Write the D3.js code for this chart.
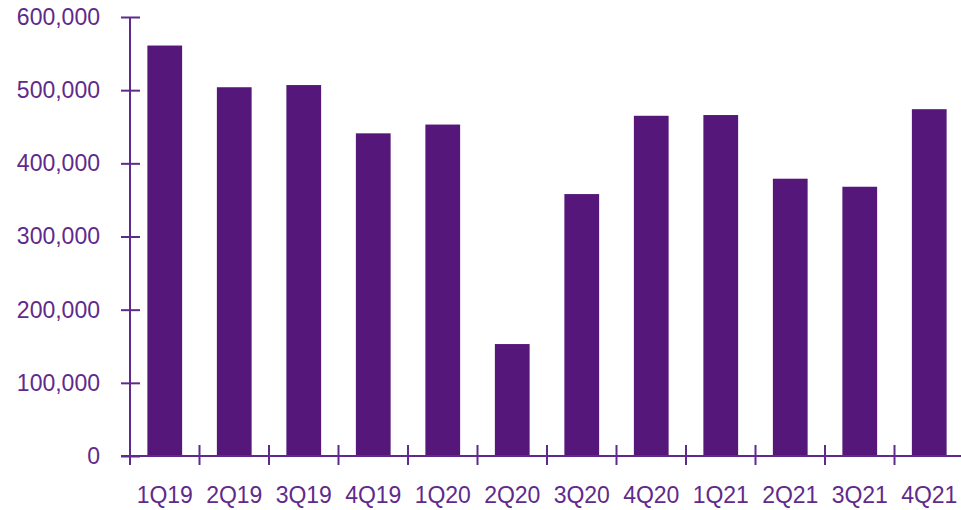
<!DOCTYPE html>
<html><head><meta charset="utf-8">
<script src="https://cdn.jsdelivr.net/npm/d3@7"></script>
<style>body{margin:0;background:#fff}svg{display:block}</style>
</head><body>
<script>
const categories = ["1Q19","2Q19","3Q19","4Q19","1Q20","2Q20","3Q20","4Q20","1Q21","2Q21","3Q21","4Q21"];
const values = [561000,504000,507000,441000,453000,153000,358000,465000,466000,379000,368000,474000];
const yTicks = [0,100000,200000,300000,400000,500000,600000];

const W=961,H=510;
const barColor="#551779", axisColor="#5F2A8B";
const svg=d3.select("body").append("svg").attr("width",W).attr("height",H);
const x=d3.scaleBand().domain(categories).range([130,964]).paddingInner(0.5).paddingOuter(0.25);
const y=d3.scaleLinear().domain([0,600000]).range([456,17]);
const font="'Liberation Sans', Arial, Helvetica, sans-serif";

svg.append("g").selectAll("rect").data(values).join("rect")
  .attr("x",(d,i)=>x(categories[i])).attr("width",x.bandwidth())
  .attr("y",d=>y(d)).attr("height",d=>y(0)-y(d)).attr("fill",barColor);

// y axis
const ya=svg.append("g").attr("transform","translate(130,0)")
  .call(d3.axisLeft(y).tickValues(yTicks).tickSize(9).tickPadding(21).tickFormat(d3.format(",")));
ya.selectAll(".tick line").attr("x2",10).attr("x1",-9);
// x axis
const bounds=d3.range(categories.length).map(i=>130+i*(834/12));
const xa=svg.append("g").attr("transform","translate(0,456)")
  .call(d3.axisBottom(x).tickSize(0).tickPadding(31));
xa.selectAll(".tick line").remove();
xa.selectAll(".tickb").data(bounds).join("line").attr("class","tickb")
  .attr("x1",d=>d).attr("x2",d=>d).attr("y1",-11).attr("y2",9);
xa.select(".domain").attr("d","M121,0H961");
ya.select(".domain").attr("d","M0,17V456");
svg.selectAll(".domain, .tick line, .tickb").attr("stroke",axisColor).attr("stroke-width",2);
svg.selectAll(".tick text").attr("fill",axisColor).style("font-family",font).style("font-size","23px");
</script>
</body></html>
